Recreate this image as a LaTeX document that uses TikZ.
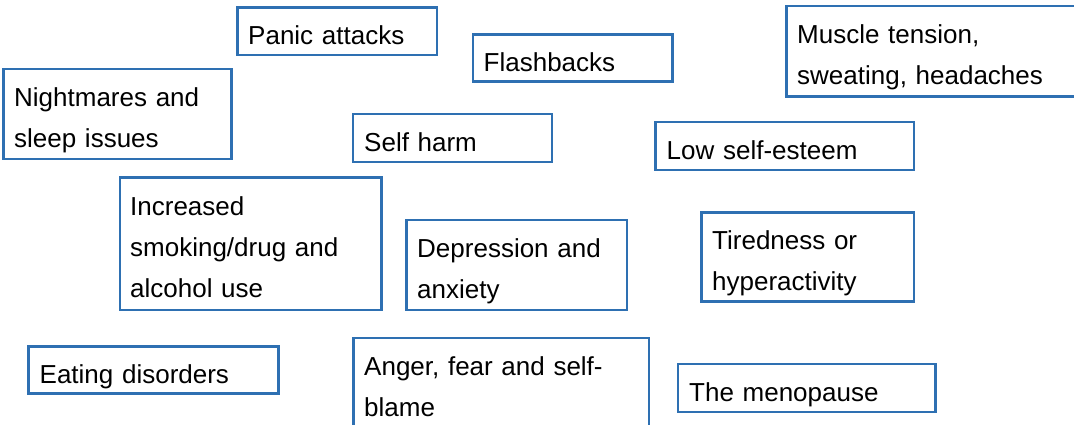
\documentclass[tikz,border=0pt]{standalone}
\usepackage{fontspec}
\setmainfont{Liberation Sans}
\definecolor{boxblue}{RGB}{46,112,178}
\tikzset{
  symbox/.style={draw=boxblue, line width=2.2pt},
  symtext/.style={anchor=base west, inner sep=0pt, text width=300pt, align=left,
    font=\fontsize{26}{41}\selectfont}
}
\begin{document}
\begin{tikzpicture}[x=1pt,y=-1pt]
\useasboundingbox (0,0) rectangle (1074,424);
\clip (0,0) rectangle (1074,424);

% top row
\draw[symbox] (237.5,7.5) rectangle (437,55);
\node[symtext] (panic) at (248,44.5) {Panic attacks};
\draw[symbox] (473,34.5) rectangle (672.5,81.5);
\node[symtext] (flash) at (483.5,71.5) {Flashbacks};
\draw[symbox] (786.5,6) rectangle (1080,96.5);
\node[symtext] (muscle) at (797,43.3) {Muscle tension,\\sweating, headaches};

% second row
\draw[symbox] (3.5,69) rectangle (231.5,159);
\node[symtext] (night) at (14,106) {Nightmares and\\sleep issues};
\draw[symbox] (353,114) rectangle (552,162);
\node[symtext] (selfharm) at (364,151) {Self harm};
\draw[symbox] (655.5,122) rectangle (914,170);
\node[symtext] (esteem) at (666.5,159.3) {Low self-esteem};

% third row
\draw[symbox] (120,177.5) rectangle (381.5,310);
\node[symtext] (smoking) at (130,215) {Increased\\smoking/drug and\\alcohol use};
\draw[symbox] (406.5,220) rectangle (627,310);
\node[symtext] (depress) at (417,257) {Depression and\\anxiety};
\draw[symbox] (701.5,212.5) rectangle (914,301.5);
\node[symtext] (tired) at (712,249) {Tiredness or\\hyperactivity};

% bottom row
\draw[symbox] (28.5,346.5) rectangle (278.5,393.5);
\node[symtext] (eating) at (39.5,383) {Eating disorders};
\draw[symbox] (353.5,338) rectangle (649,430);
\node[symtext] (anger) at (364,375.3) {Anger, fear and self-\\blame};
\draw[symbox] (678,364) rectangle (935.5,412);
\node[symtext] (meno) at (689,401.3) {The menopause};

\end{tikzpicture}
\end{document}
